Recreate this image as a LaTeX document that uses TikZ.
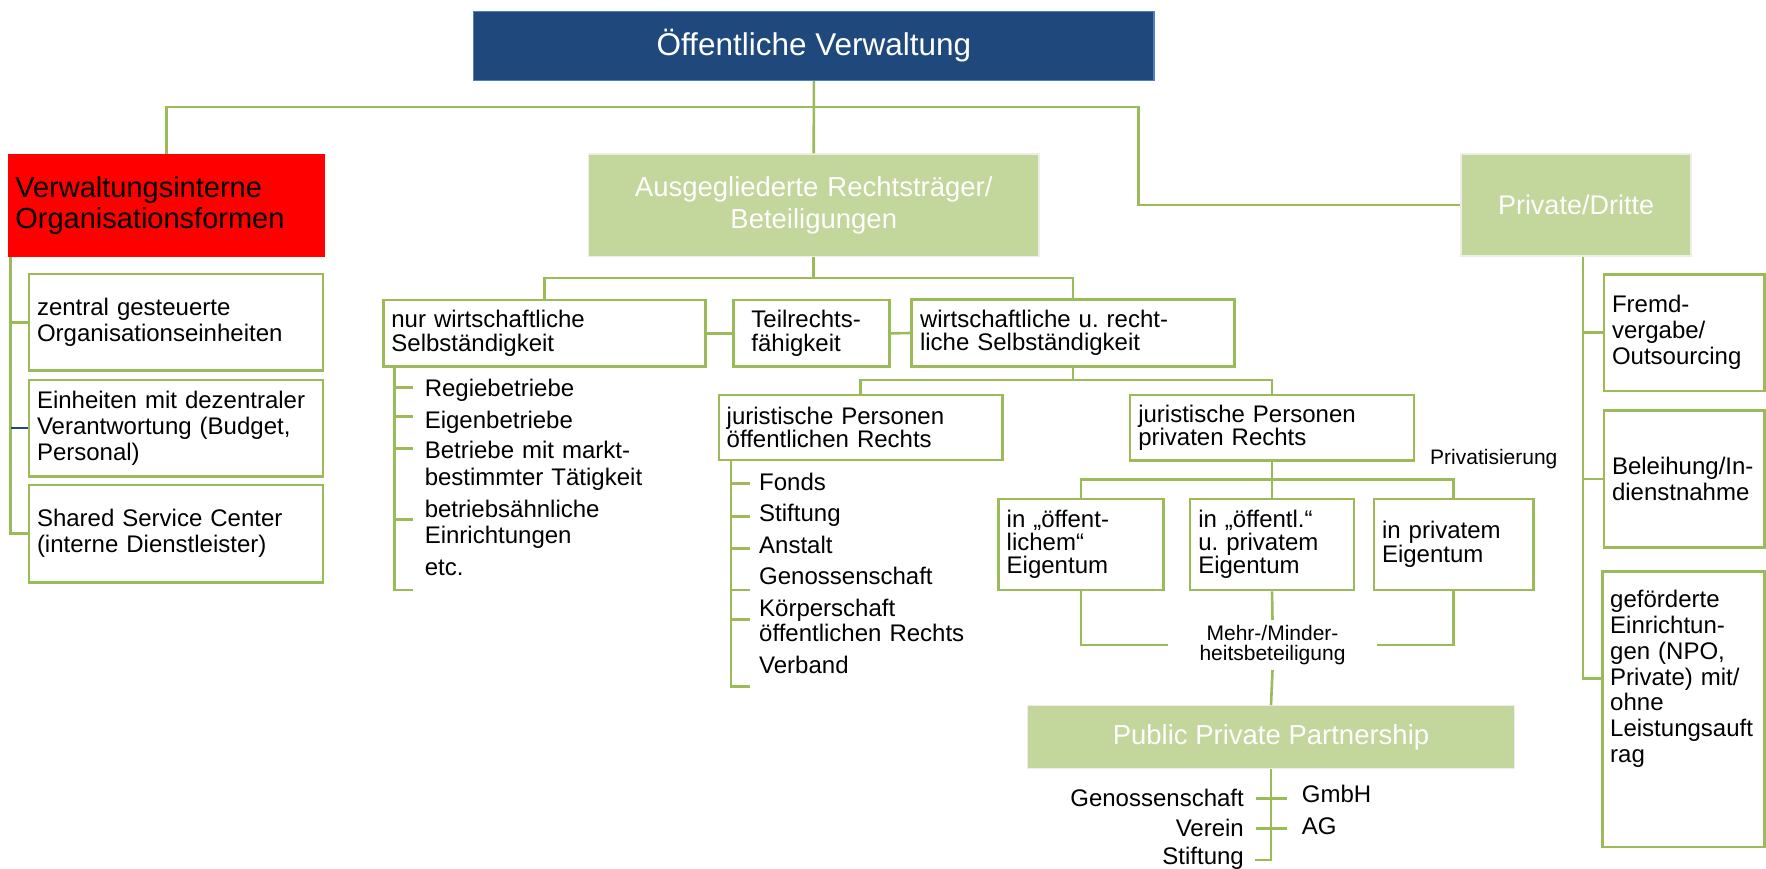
\documentclass[tikz,border=0pt]{standalone}
\usepackage{fontspec}
\setmainfont{Liberation Sans}
\usetikzlibrary{calc}
\definecolor{lgreen}{RGB}{155,187,89}
\definecolor{pgreen}{RGB}{195,214,155}
\definecolor{dblue}{RGB}{31,73,125}
\definecolor{mblue}{RGB}{79,129,189}
\definecolor{pale}{RGB}{238,238,232}
\frenchspacing
\begin{document}
\begin{tikzpicture}[x=1pt,y=-1pt,
  conn/.style={draw=lgreen, line width=2.6pt},
  bconn/.style={draw=dblue, line width=2pt},
  wbox/.style={draw=lgreen, line width=2.6pt, fill=white, inner ysep=1pt, align=left},
  gbox/.style={fill=pgreen, draw=pale, line width=1.2pt, text=white, align=center, inner sep=2pt},
  item/.style={inner sep=0pt, anchor=base west, align=left, font=\fontsize{24}{26}\selectfont},
  small/.style={font=\fontsize{21}{19.4}\selectfont},
]
\useasboundingbox (0,0) rectangle (1766,868);

% ---------- main boxes ----------
\node[draw=mblue, line width=1.5pt, fill=dblue, text=white, minimum width=680.3pt, minimum height=68.6pt, inner sep=0pt, font=\fontsize{31.5}{36}\selectfont] (top) at (813.85,46) {Öffentliche Verwaltung};

\node[fill=red, minimum width=317pt, minimum height=102.7pt, inner xsep=7.3pt, inner ysep=0pt, text width=302.4pt, align=left, font=\fontsize{29}{31}\selectfont] (red) at (166.5,205.35) {Verwaltungsinterne\\Organisationsformen};

\node[gbox, minimum width=450.5pt, minimum height=102.7pt, inner xsep=5pt, text width=440pt, font=\fontsize{27.5}{31.4}\selectfont] (ausg) at (813.75,205.35) {Ausgegliederte Rechtsträger/\\Beteiligungen};

\node[gbox, minimum width=230pt, minimum height=102pt, font=\fontsize{27}{31}\selectfont] (priv) at (1576,205) {Private/Dritte};

\node[gbox, minimum width=486.6pt, minimum height=62.6pt, font=\fontsize{27.5}{31}\selectfont] (ppp) at (1271,737) {Public Private Partnership};

% ---------- left column ----------
\node[wbox, font=\fontsize{24}{26}\selectfont, minimum width=294pt, minimum height=96.7pt, inner xsep=8pt, text width=278pt] (b1) at (176,322.35) {zentral gesteuerte\\Organisationseinheiten};
\node[wbox, font=\fontsize{24}{26}\selectfont, minimum width=294pt, minimum height=96.7pt, inner xsep=8pt, text width=278pt] (b2) at (176,428.35) {Einheiten mit dezentraler\\Verantwortung (Budget,\\Personal)};
\node[wbox, font=\fontsize{24}{26}\selectfont, minimum width=294pt, minimum height=97.3pt, inner xsep=8pt, text width=278pt] (b3) at (176,533.65) {Shared Service Center\\(interne Dienstleister)};

% ---------- middle ----------
\node[wbox, font=\fontsize{24}{23.5}\selectfont, minimum width=322.1pt, minimum height=66.7pt, inner xsep=7.8pt, text width=306.5pt] (nur) at (544.65,333.35) {nur wirtschaftliche\\Selbständigkeit};
\node[wbox, font=\fontsize{24}{23.5}\selectfont, minimum width=156pt, minimum height=66.7pt, inner xsep=18pt, text width=120pt] (teil) at (811.4,333.35) {Teilrechts-\\fähigkeit};
\node[wbox, font=\fontsize{24}{23.5}\selectfont, minimum width=322.6pt, minimum height=67.4pt, inner xsep=8.3pt, text width=306pt] (wirt) at (1073,333) {wirtschaftliche u. recht-\\liche Selbständigkeit};

\node[wbox, font=\fontsize{24}{22}\selectfont, minimum width=283.3pt, minimum height=65pt, inner xsep=7.7pt, text width=267.9pt] (jo) at (860.65,427.5) {juristische Personen\\öffentlichen Rechts};
\node[wbox, font=\fontsize{24}{22}\selectfont, minimum width=284pt, minimum height=65.7pt, inner xsep=8.3pt, text width=267.4pt] (jp) at (1272,427.85) {juristische Personen\\privaten Rechts};

\node[wbox, font=\fontsize{24}{23}\selectfont, minimum width=165pt, minimum height=91pt, inner xsep=8.4pt, text width=148.2pt] (e1) at (1080.8,544.5) {in „öffent-\\lichem“\\Eigentum};
\node[wbox, font=\fontsize{24}{23}\selectfont, minimum width=164pt, minimum height=91pt, inner xsep=8.3pt, text width=147.4pt] (e2) at (1272,544.5) {in „öffentl.“\\u. privatem\\Eigentum};
\node[wbox, font=\fontsize{24}{23.5}\selectfont, minimum width=159.3pt, minimum height=91pt, inner xsep=8pt, text width=143.3pt] (e3) at (1453.65,544.5) {in privatem\\Eigentum};

\node[small, inner sep=0pt, anchor=base west] (pz) at (1430,464.5) {Privatisierung};
\node[small, minimum width=208.4pt, minimum height=50pt, inner sep=0pt, text width=208.4pt, align=center] (mm) at (1272.5,645) {Mehr-/Minder-\\heitsbeteiligung};

% ---------- right column ----------
\node[wbox, font=\fontsize{24}{26}\selectfont, minimum width=160.3pt, minimum height=116.7pt, inner xsep=8pt, text width=144.3pt] (f1) at (1684.15,332.65) {Fremd-\\vergabe/\\Outsourcing};
\node[wbox, font=\fontsize{24}{26}\selectfont, minimum width=160.3pt, minimum height=137.4pt, inner xsep=8pt, text width=144.3pt] (f2) at (1684.15,479) {Beleihung/In-\\dienstnahme};
\node[wbox, minimum width=162pt, minimum height=275.3pt] (f3) at (1683.3,709.35) {};
\node[item, text width=150pt, font=\fontsize{24}{25.9}\selectfont] (f3t) at (1610,607.3) {geförderte\\Einrichtun-\\gen (NPO,\\Private) mit/\\ohne\\Leistungsauft\\rag};

% ---------- list items ----------
\node[item] (r1) at (424.6,396.7) {Regiebetriebe};
\node[item] (r2) at (424.6,428.3) {Eigenbetriebe};
\node[item, text width=240pt, font=\fontsize{24}{26.7}\selectfont] (r3) at (424.6,458.3) {Betriebe mit markt-\\bestimmter Tätigkeit};
\node[item, text width=240pt] (r4) at (424.6,517.3) {betriebsähnliche\\Einrichtungen};
\node[item] (r5) at (424.6,575) {etc.};

\node[item] (o1) at (759,490) {Fonds};
\node[item] (o2) at (759,521.7) {Stiftung};
\node[item] (o3) at (759,553.3) {Anstalt};
\node[item] (o4) at (759,584) {Genossenschaft};
\node[item, text width=240pt, font=\fontsize{24}{25.7}\selectfont] (o5) at (759,616) {Körperschaft\\öffentlichen Rechts};
\node[item] (o6) at (759,673.3) {Verband};

\node[item, anchor=base east] (pg) at (1244,806) {Genossenschaft};
\node[item, anchor=base east] (pv) at (1244,836) {Verein};
\node[item, anchor=base east] (ps) at (1244,864) {Stiftung};
\node[item] (pgm) at (1301.7,802.7) {GmbH};
\node[item] (pag) at (1301.7,834) {AG};

% ---------- connectors ----------
\coordinate (k1) at (1138.6,107);
\draw[conn] (red.north) |- (k1) |- (priv.west);
\draw[conn] (top.south) -- (ausg.north);

\coordinate (lv) at (10.7,0);
\draw[conn] (red.south -| lv) |- (b3.west);
\draw[conn] (b1.west) -- (b1.west -| lv);
\draw[bconn] (b2.west) -- (b2.west -| lv);

\coordinate (k2) at (0,278);
\draw[conn] (ausg.south) -- (ausg.south |- k2);
\draw[conn] (nur.north) |- (k2 -| wirt.north) -- (wirt.north);
\draw[conn] (nur.east) -- (teil.west);
\draw[conn] (teil.east) -- (wirt.west);

\coordinate (nv) at (394.3,590);
\draw[conn] (nur.south -| nv) -- (nv) -- ++(18.5,0);
\foreach \yy in {387.3,416.7,448.3,519.3} \draw[conn] (nv |- 0,\yy) -- ++(18.5,0);

\coordinate (k3) at (0,380);
\draw[conn] (wirt.south) -- (wirt.south |- k3);
\draw[conn] (jo.north) |- (k3 -| jp.north) -- (jp.north);

\coordinate (jv) at (731,686.7);
\draw[conn] (jo.south -| jv) -- (jv) -- ++(19,0);
\foreach \yy in {483.3,516.7,548.3,590,619.3} \draw[conn] (jv |- 0,\yy) -- ++(19,0);

\coordinate (k4) at (0,479.3);
\draw[conn] (jp.south) -- (e2.north);
\draw[conn] (e1.north) |- (k4 -| e3.north) -- (e3.north);
\draw[conn] (e1.south) |- (mm.west);
\draw[conn] (e3.south) |- (mm.east);
\draw[conn] (e2.south) -- (mm.north);
\draw[conn] (mm.south) -- (ppp.north);

\coordinate (pe) at (1271,860);
\draw[conn] (ppp.south) -- (pe) -- ++(-15.7,0);
\draw[conn] (pe |- 0,798.3) ++(-15.4,0) -- ++(31.3,0);
\draw[conn] (pe |- 0,828.3) ++(-15.4,0) -- ++(31.3,0);

\coordinate (rv) at (1583,678.3);
\draw[conn] ($(priv.south)+(7,0)$) -- (rv) -- (rv -| f3.west);
\draw[conn] (f1.west) -- (f1.west -| rv);
\draw[conn] (f2.west) -- (f2.west -| rv);
\end{tikzpicture}
\end{document}
